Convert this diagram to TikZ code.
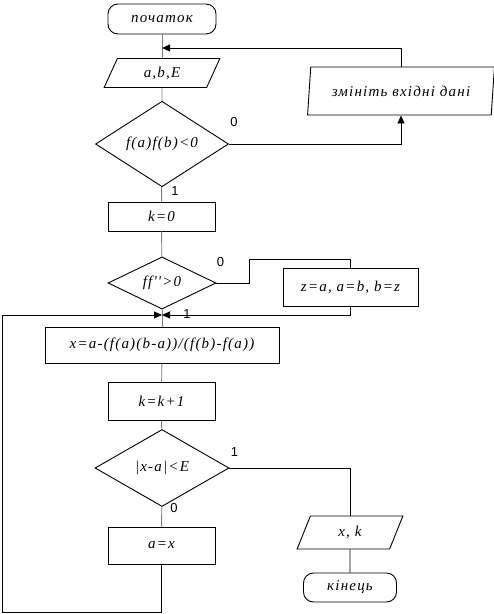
\documentclass[tikz,border=0pt]{standalone}
\usepackage{fontspec}
\setmainfont{Liberation Serif}
\newfontfamily\blkfont[LetterSpace=8]{Liberation Serif}
\newfontfamily\labfont{Liberation Sans}
\usetikzlibrary{arrows.meta,shapes.geometric,calc}

\tikzset{
  blk/.style={draw,line width=0.9pt,inner sep=0pt,font=\blkfont\itshape\fontsize{15}{17}\selectfont},
  term/.style={blk,rounded corners=10pt},
  io/.style={blk,trapezium,trapezium stretches=true,trapezium left angle=#1,trapezium right angle=180-#1},
  cond/.style={blk,diamond},
  lab/.style={font=\labfont\fontsize{13}{15}\selectfont,inner sep=0pt},
  ln/.style={line width=0.9pt},
  gln/.style={line width=0.9pt,gray},
}

\begin{document}
\begin{tikzpicture}[x=1pt,y=-1pt,>={Triangle[length=8pt,width=7pt]}]
  \useasboundingbox (0,0) rectangle (494,614);

  % блоки основного стовпця
  \node[term,minimum width=108pt,minimum height=30pt] (start) at (162,19) {початок};
  \node[io=67,minimum width=116pt,minimum height=29pt] (inp) at (162,73) {a,b,E};
  \node[cond,minimum width=133pt,minimum height=75pt] (chk) at (162,144) {f(a)f(b)<0};
  \node[blk,minimum width=107pt,minimum height=29pt] (kzero) at (161.5,216.5) {k=0};
  \node[cond,minimum width=108pt,minimum height=48pt] (sgn) at (162,283) {ff''>0};
  \node[blk,minimum width=234pt,minimum height=36pt] (calc) at (162,345) {x=a-(f(a)(b-a))/(f(b)-f(a))};
  \node[blk,minimum width=107pt,minimum height=38pt] (inc) at (161.5,401) {k=k+1};
  \node[cond,minimum width=134pt,minimum height=77pt] (stop) at (162,468) {|x-a|<E};
  \node[blk,minimum width=107pt,minimum height=37pt] (ax) at (161.5,545.5) {a=x};

  % бічні блоки
  \node[io=77,minimum width=187pt,minimum height=48pt] (chg) at (401,91) {змініть вхідні дані};
  \node[blk,minimum width=135pt,minimum height=38pt] (swp) at (350.5,287) {z=a, a=b, b=z};
  \node[io=73,minimum width=106pt,minimum height=33pt] (out) at (350,532.5) {x, k};
  \node[term,minimum width=93pt,minimum height=29pt] (fin) at (350,587.5) {кінець};

  % точки зламу
  \coordinate (back) at (162,48);
  \coordinate (bend) at (249,259);
  \coordinate (join) at (162,315);
  \coordinate (lp) at (2,612);

  % з'єднання
  \draw[gln] (start) -- (inp);
  \draw[gln] (inp) -- (chk);
  \draw[gln] (chk) -- (kzero);
  \draw[gln] (kzero) -- (sgn);
  \draw[gln] (sgn) -- (calc);
  \draw[gln] (calc) -- (inc);
  \draw[gln] (inc) -- (stop);
  \draw[gln] (stop) -- (ax);
  \draw[ln,->] (chk.east) -| (chg.south);
  \draw[ln,->] (chg.north) |- (back);
  \draw[ln] (sgn.east) -| (bend) -| (swp.north);
  \draw[ln,->] (swp.south) |- (join);
  \draw[ln,->] (ax.south) |- (lp) |- (join);
  \draw[ln] (stop.east) -| (out.north);
  \draw[ln] (out) -- (fin);

  % підписи гілок
  \node[lab] (l1) at ($(chk.east)+(5,-22)$) {0};
  \node[lab] (l2) at ($(chk.south)+(13,4)$) {1};
  \node[lab] (l3) at ($(sgn.east)+(4,-21)$) {0};
  \node[lab] (l4) at ($(sgn.south)+(25,5)$) {1};
  \node[lab] (l5) at ($(stop.east)+(5,-16)$) {1};
  \node[lab] (l6) at ($(stop.south)+(12,1)$) {0};
\end{tikzpicture}
\end{document}
